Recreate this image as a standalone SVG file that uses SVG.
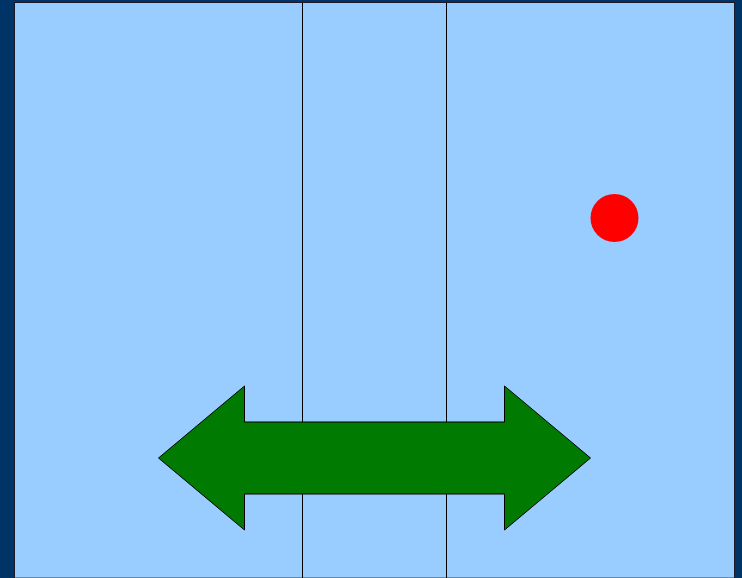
<svg xmlns="http://www.w3.org/2000/svg" width="742" height="578" viewBox="0 0 742 578">
<style>
.div{stroke:#000;stroke-width:1;fill:none}
</style>
<rect x="0" y="0" width="742" height="578" fill="#003366"/>
<g id="panel">
<rect x="14.5" y="2.5" width="720" height="580" fill="#99CCFF" stroke="#1a1a2a" stroke-width="1"/>
<line x1="15" y1="577.5" x2="734" y2="577.5" stroke="#6688aa" stroke-width="1"/>
</g>
<g id="connectors">
<line class="div" x1="302.5" y1="3" x2="302.5" y2="578"/>
<line class="div" x1="446.5" y1="3" x2="446.5" y2="578"/>
</g>
<g id="ball">
<circle cx="614.5" cy="218" r="24" fill="#FF0000"/>
</g>
<g id="arrow">
<polygon points="158.5,458 244.5,386 244.5,422 504.5,422 504.5,386 590.5,458 504.5,530 504.5,494 244.5,494 244.5,530" fill="#007A00" stroke="#000" stroke-width="1"/>
</g>
</svg>
